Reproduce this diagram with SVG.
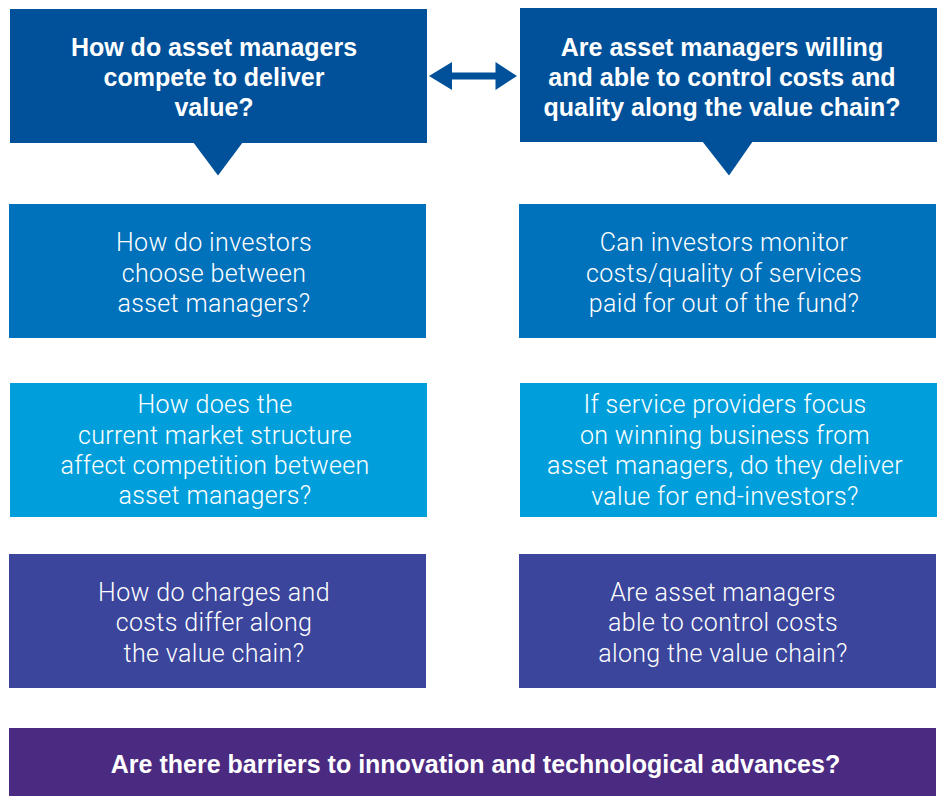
<svg xmlns="http://www.w3.org/2000/svg" width="941" height="796" viewBox="0 0 941 796">
<style>
.b{font-family:"Liberation Sans",Arial,sans-serif;font-weight:bold;font-size:25px;fill:#fff;text-anchor:middle}
.l{font-family:Roboto,"Liberation Sans",sans-serif;font-weight:300;font-size:25px;letter-spacing:0.35px;fill:#fff;text-anchor:middle}
.c1{fill:#00519A}.c2{fill:#0071BB}.c3{fill:#009FDC}.c4{fill:#3A459B}.c5{fill:#4B2A82}
</style>
<rect width="941" height="796" fill="#fff"/>
<g id="connectors">
<polygon class="c1" points="429,76 452,62 452,72.5 495.5,72.5 495.5,62 517,76 495.5,90 495.5,79.5 452,79.5 452,90"/>
</g>
<g id="q-compete">
<rect class="c1" x="10" y="9" width="417" height="134"/>
<polygon class="c1" points="193,142 243,142 218,175.5"/>
<text class="b" x="214"><tspan x="214" y="56">How do asset managers</tspan><tspan x="214" y="86">compete to deliver</tspan><tspan x="214" y="116">value?</tspan></text>
</g>
<g id="q-control">
<rect class="c1" x="520" y="8" width="417" height="134"/>
<polygon class="c1" points="702,141 753,141 729,175.5"/>
<text class="b" x="722"><tspan x="722" y="56">Are asset managers willing</tspan><tspan x="722" y="86">and able to control costs and</tspan><tspan x="722" y="116">quality along the value chain?</tspan></text>
</g>
<g id="q-investors-choose">
<rect class="c2" x="9" y="204" width="417" height="134"/>
<text class="l"><tspan x="214" y="251">How do investors</tspan><tspan x="214" y="282">choose between</tspan><tspan x="214" y="312">asset managers?</tspan></text>
</g>
<g id="q-investors-monitor">
<rect class="c2" x="519" y="204" width="417" height="134"/>
<text class="l"><tspan x="724" y="251">Can investors monitor</tspan><tspan x="724" y="282">costs/quality of services</tspan><tspan x="724" y="312">paid for out of the fund?</tspan></text>
</g>
<g id="q-market-structure">
<rect class="c3" x="10" y="383" width="417" height="134"/>
<text class="l"><tspan x="215" y="413">How does the</tspan><tspan x="215" y="444">current market structure</tspan><tspan x="215" y="474">affect competition between</tspan><tspan x="215" y="504">asset managers?</tspan></text>
</g>
<g id="q-service-providers">
<rect class="c3" x="520" y="383" width="417" height="134"/>
<text class="l"><tspan x="725" y="413">If service providers focus</tspan><tspan x="725" y="444">on winning business from</tspan><tspan x="725" y="474">asset managers, do they deliver</tspan><tspan x="725" y="505">value for end-investors?</tspan></text>
</g>
<g id="q-charges">
<rect class="c4" x="9" y="554" width="417" height="134"/>
<text class="l"><tspan x="214" y="601">How do charges and</tspan><tspan x="214" y="631">costs differ along</tspan><tspan x="214" y="662">the value chain?</tspan></text>
</g>
<g id="q-control-costs">
<rect class="c4" x="519" y="554" width="417" height="134"/>
<text class="l"><tspan x="723" y="601">Are asset managers</tspan><tspan x="723" y="631">able to control costs</tspan><tspan x="723" y="662">along the value chain?</tspan></text>
</g>
<g id="q-barriers">
<rect class="c5" x="9" y="728" width="927" height="68"/>
<text class="b" x="475.5" y="773">Are there barriers to innovation and technological advances?</text>
</g>
</svg>
